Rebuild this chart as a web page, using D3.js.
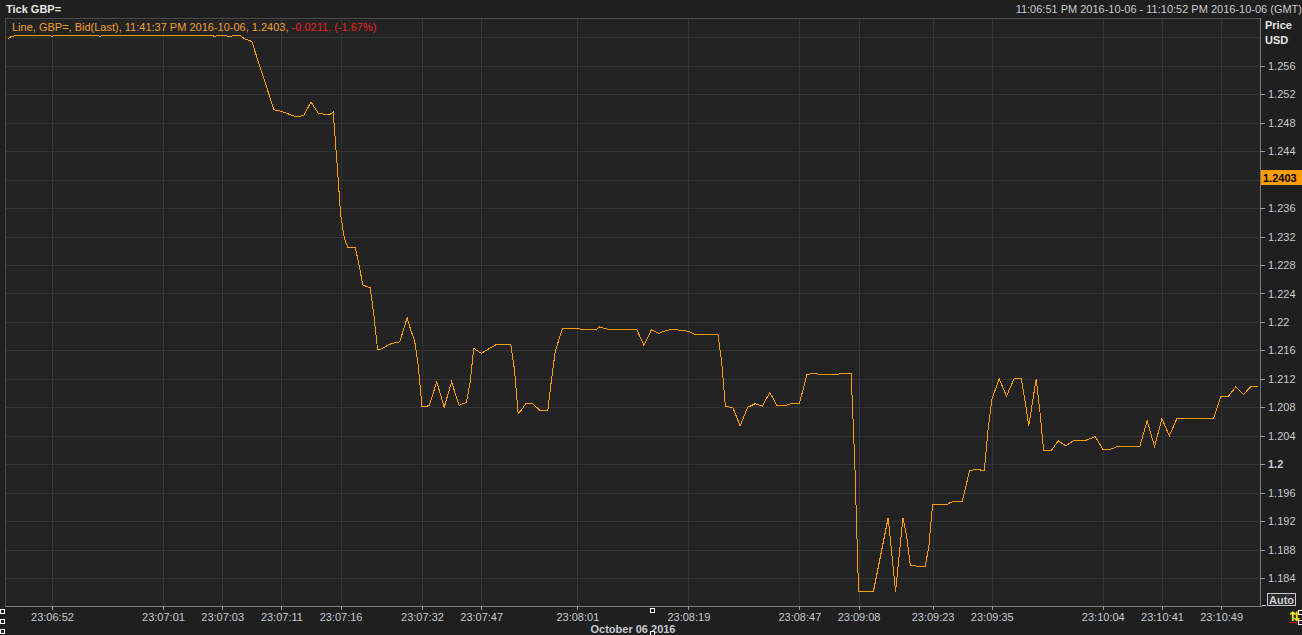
<!DOCTYPE html>
<html><head><meta charset="utf-8">
<script src="https://cdn.jsdelivr.net/npm/d3@7"></script>
<style>
html,body{margin:0;padding:0;background:#1f1f1f;overflow:hidden;}
svg{display:block;font-family:"Liberation Sans",Arial,sans-serif;}
</style></head>
<body><svg id="c" width="1302" height="635"></svg>
<script>
// ---- data ----
const tickIdx = [-12,-11,-10,-8,-1,0,1,12,13,14,29,30,31,43,44,45,47,48,49,51,52,53,54,60,62,66,68,70,72,75,76,77,78,79,80,81,82,83,84,86,87,88,89,91,92,94,96,97,98,99,100,101,102,104,106,108,110,112,113,114,116,118,120,124,125,126,127,128,130,132,134,135,136,137,138,141,145,147,148,150,158,160,162,164,166,168,170,172,174,175,177,180,181,182,184,186,188,190,192,194,196,198,200,202,203,204,206,208,211,213,216,217,218,222,226,227,228,230,231,232,236,237,238,242,243,246,247,248,250,252,253,254,256,258,260,262,263,264,266,267,268,270,272,274,276,279,280,282,284,286,288,294,296,298,300,302,304,308,309,314,316,318,320,322,324,326];
const bid = [1.2598,1.2601,1.2602,1.2603,1.2603,1.2601,1.2603,1.2603,1.2601,1.2603,1.2603,1.2602,1.2603,1.2603,1.2601,1.2603,1.2602,1.2601,1.2602,1.2602,1.2598,1.2596,1.2594,1.2498,1.2496,1.2488,1.2490,1.2509,1.2493,1.2491,1.2495,1.2426,1.2352,1.2318,1.2304,1.2305,1.2304,1.2280,1.2252,1.2248,1.2210,1.2161,1.2162,1.2168,1.2170,1.2172,1.2206,1.2188,1.2174,1.2138,1.2081,1.2081,1.2083,1.2116,1.2080,1.2116,1.2083,1.2087,1.2115,1.2163,1.2156,1.2162,1.2168,1.2168,1.2133,1.2071,1.2077,1.2085,1.2085,1.2075,1.2075,1.2119,1.2158,1.2175,1.2191,1.2191,1.2189,1.2189,1.2193,1.2190,1.2190,1.2167,1.2189,1.2184,1.2188,1.2190,1.2188,1.2187,1.2182,1.2183,1.2183,1.2182,1.2144,1.2081,1.2080,1.2054,1.2080,1.2085,1.2082,1.2101,1.2082,1.2082,1.2086,1.2086,1.2105,1.2126,1.2128,1.2126,1.2126,1.2127,1.2127,1.1999,1.1821,1.1821,1.1925,1.1873,1.1821,1.1925,1.1899,1.1858,1.1856,1.1885,1.1943,1.1944,1.1947,1.1948,1.1969,1.1991,1.1993,1.1991,1.2049,1.2091,1.2120,1.2096,1.2120,1.2120,1.2089,1.2054,1.2120,1.2075,1.2020,1.2019,1.2033,1.2026,1.2033,1.2033,1.2035,1.2039,1.2021,1.2021,1.2025,1.2025,1.2061,1.2025,1.2064,1.2040,1.2064,1.2064,1.2065,1.2065,1.2096,1.2096,1.2109,1.2098,1.2109,1.2109];
const xTickIdx = [0,30,46,62,78,100,116,142,172,202,218,238,254,284,300,316];
const xTickLabels = ["23:06:52","23:07:01","23:07:03","23:07:11","23:07:16","23:07:32","23:07:47","23:08:01","23:08:19","23:08:47","23:09:08","23:09:23","23:09:35","23:10:04","23:10:41","23:10:49"];
const yTicks = [1.184,1.188,1.192,1.196,1.2,1.204,1.208,1.212,1.216,1.22,1.224,1.228,1.232,1.236,1.244,1.248,1.252,1.256];
const yGrid = [1.184,1.188,1.192,1.196,1.2,1.204,1.208,1.212,1.216,1.22,1.224,1.228,1.232,1.236,1.24,1.244,1.248,1.252,1.256,1.26];
const lastValue = 1.2403;
const titleText = "Tick GBP=";
const rangeText = "11:06:51 PM 2016-10-06 - 11:10:52 PM 2016-10-06 (GMT)";
const legendMain = "Line, GBP=, Bid(Last), 11:41:37 PM 2016-10-06, 1.2403, ";
const legendChange = "-0.0211, (-1.67%)";
const dateLabel = "October 06 2016";

// ---- layout ----
const L = 5, R = 1260, T = 18, B = 606;
const svg = d3.select("#c");
const x = d3.scaleLinear().domain([-12.7, 326.5]).range([L, R]);
const y = d3.scaleLinear().domain([1.1801, 1.2627]).range([B, T]);

svg.append("rect").attr("width",1302).attr("height",635).attr("fill","#1f1f1f");
svg.append("rect").attr("x",L).attr("y",T).attr("width",R-L).attr("height",B-T).attr("fill","#232323");

// grid
const grid = svg.append("g").attr("shape-rendering","crispEdges");
grid.selectAll("line.h").data(yGrid).join("line")
  .attr("x1",L).attr("x2",R).attr("y1",d=>Math.round(y(d))+0.5).attr("y2",d=>Math.round(y(d))+0.5)
  .attr("stroke","#333333");
grid.selectAll("line.v").data(xTickIdx).join("line")
  .attr("y1",T).attr("y2",B).attr("x1",d=>Math.round(x(d))+0.5).attr("x2",d=>Math.round(x(d))+0.5)
  .attr("stroke","#333333");

// frame
svg.append("line").attr("x1",L+0.5).attr("x2",L+0.5).attr("y1",T).attr("y2",B).attr("stroke","#4a4a4a").attr("shape-rendering","crispEdges");
svg.append("line").attr("x1",L).attr("x2",R).attr("y1",T+0.5).attr("y2",T+0.5).attr("stroke","#4a4a4a").attr("shape-rendering","crispEdges");

// line
const pts = tickIdx.map((d,i)=>[d,bid[i]]);
svg.append("path").datum(pts)
  .attr("d", d3.line().x(d=>x(d[0])).y(d=>y(d[1])))
  .attr("fill","none").attr("stroke","#ff9d00").attr("stroke-width",1)
  .attr("shape-rendering","crispEdges");

// right axis
const ya = svg.append("g").attr("transform",`translate(${R},0)`)
  .call(d3.axisRight(y).tickValues(yTicks).tickSize(5).tickPadding(3)
    .tickFormat(d=>d3.format("")(+d.toFixed(3))));
ya.select(".domain").attr("stroke","#7a7a7a").attr("d",`M0.5,${T}V${B}`);
ya.selectAll(".tick line").attr("stroke","#9a9a9a").attr("shape-rendering","crispEdges");
ya.selectAll(".tick text").attr("fill","#c6cad0").attr("font-size","11px")
  .attr("font-family","Liberation Sans, Arial, sans-serif")
  .attr("font-weight",d=>d===1.2?"bold":"normal");

// bottom axis
const xa = svg.append("g").attr("transform",`translate(0,${B})`)
  .call(d3.axisBottom(x).tickValues(xTickIdx).tickSize(4).tickPadding(3)
    .tickFormat((d,i)=>xTickLabels[i]));
xa.select(".domain").attr("stroke","#7a7a7a").attr("d",`M${L},0.5H${R+2}`);
xa.selectAll(".tick line").attr("stroke","#9a9a9a").attr("shape-rendering","crispEdges");
xa.selectAll(".tick text").attr("fill","#c6cad0").attr("font-size","11px")
  .attr("font-family","Liberation Sans, Arial, sans-serif");

// header texts
svg.append("text").attr("x",6).attr("y",12.5).text(titleText)
  .attr("fill","#e6e6e6").attr("font-size","11px").attr("font-weight","bold");
svg.append("text").attr("x",1302).attr("y",12.5).attr("text-anchor","end").text(rangeText)
  .attr("fill","#c6cad0").attr("font-size","11px");
svg.append("text").attr("x",1265).attr("y",29).text("Price")
  .attr("fill","#e6e6e6").attr("font-size","11px").attr("font-weight","bold");
svg.append("text").attr("x",1265).attr("y",44).text("USD")
  .attr("fill","#e6e6e6").attr("font-size","11px").attr("font-weight","bold");

// legend
const lg = svg.append("text").attr("x",12).attr("y",31).attr("font-size","11px").attr("xml:space","preserve");
lg.append("tspan").attr("fill","#f0a030").text(legendMain);
lg.append("tspan").attr("fill","#e8201e").text(legendChange);

// last value label
const ly = y(lastValue);
svg.append("rect").attr("x",R+1).attr("y",Math.round(ly)-7).attr("width",1302-R-1).attr("height",15).attr("fill","#ff9d00");
svg.append("text").attr("x",R+3).attr("y",Math.round(ly)+4.5).text(lastValue.toFixed(4))
  .attr("fill","#000").attr("font-size","11px").attr("font-weight","bold");

// date label
svg.append("text").attr("x",633).attr("y",633).attr("text-anchor","middle").text(dateLabel)
  .attr("fill","#c6cad0").attr("font-size","11px").attr("font-weight","bold");

// Auto box
svg.append("rect").attr("x",1267.5).attr("y",593.5).attr("width",28).attr("height",12).attr("fill","#2a2a2a").attr("stroke","#c6cad0").attr("stroke-width",1);
svg.append("text").attr("x",1281.5).attr("y",604).attr("text-anchor","middle").text("Auto")
  .attr("fill","#c6cad0").attr("font-size","11px").attr("font-weight","bold");
svg.append("line").attr("x1",1262).attr("x2",1266).attr("y1",605.5).attr("y2",605.5).attr("stroke","#c6cad0");

// small handle squares
const sq = [[0.5,609.5],[0.5,619.5],[0.5,629.5],[650.5,608.5],[650.5,631.5],[1298.5,610.5],[1298.5,620.5]];
svg.selectAll("rect.sq").data(sq).join("rect").attr("class","sq")
  .attr("x",d=>d[0]).attr("y",d=>d[1]).attr("width",4).attr("height",4)
  .attr("fill","#1f1f1f").attr("stroke","#ffffff").attr("stroke-width",1);

// yellow icon
svg.append("text").attr("x",1289).attr("y",621).text("⇅").attr("fill","#ffee00").attr("font-size","13px").attr("font-weight","bold").attr("font-family","DejaVu Sans");
svg.append("line").attr("x1",1289).attr("x2",1298).attr("y1",622.5).attr("y2",622.5).attr("stroke","#e00000");
</script></body></html>
